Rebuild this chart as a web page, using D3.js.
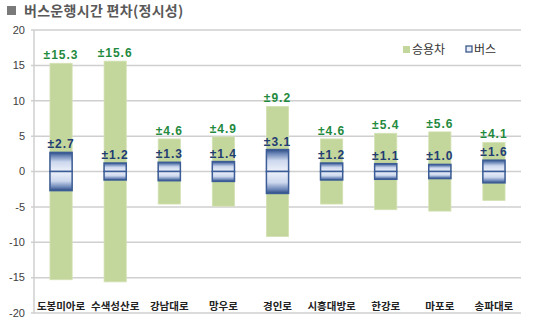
<!DOCTYPE html>
<html>
<head>
<meta charset="utf-8">
<script src="https://cdn.jsdelivr.net/npm/d3@7"></script>
<style>
  html, body { margin: 0; padding: 0; background: #fff; }
  svg { display: block; }
</style>
</head>
<body>
<svg id="chart" width="536" height="326"></svg>
<script>
// Routes (x categories)
const routes = ["도봉미아로", "수색성산로", "강남대로", "망우로", "경인로", "시흥대방로", "한강로", "마포로", "송파대로"];
// Travel-time deviation (± minutes) for passenger cars and buses
const carDeviation = [15.3, 15.6, 4.6, 4.9, 9.2, 4.6, 5.4, 5.6, 4.1];
const busDeviation = [2.7, 1.2, 1.3, 1.4, 3.1, 1.2, 1.1, 1.0, 1.6];
// Y-axis ticks
const yTicks = [20, 15, 10, 5, 0, -5, -10, -15, -20];
const legendLabels = ["승용차", "버스"];
const titleText = "버스운행시간 편차(정시성)";

const svg = d3.select("#chart");
const plot = { left: 34, right: 521, top: 30, bottom: 313 };

const x = d3.scaleBand().domain(routes).range([plot.left, plot.right]).padding(0);
const y = d3.scaleLinear().domain([-20, 20]).range([plot.bottom, plot.top]);
const barW = x.bandwidth() * 0.41;

const KR = "'Noto Sans CJK KR', 'Noto Sans', sans-serif";
const NUM = "'Liberation Sans', Arial, sans-serif";

// Gradients for the bus bars (dark at outer edge, light near zero)
const defs = svg.append("defs");
function grad(id, stops) {
  const g = defs.append("linearGradient").attr("id", id)
    .attr("x1", 0).attr("y1", 0).attr("x2", 0).attr("y2", 1);
  stops.forEach(([o, c]) => g.append("stop").attr("offset", o).attr("stop-color", c));
}
grad("busPos", [[0, "#2e4c84"], [0.18, "#6a85b6"], [0.5, "#cdd8ee"], [1, "#eef2fa"]]);
grad("busNeg", [[0, "#eef2fa"], [0.5, "#cdd8ee"], [0.82, "#6a85b6"], [1, "#2e4c84"]]);

// Title
svg.append("rect").attr("x", 7).attr("y", 6).attr("width", 9).attr("height", 9).attr("fill", "#7a7a7a");
svg.append("text").attr("x", 24).attr("y", 11).attr("dy", "0.36em")
  .attr("font-family", KR).attr("font-weight", "bold").attr("font-size", 14)
  .attr("letter-spacing", 0.3).attr("fill", "#595959").text(titleText);

// Gridlines
svg.append("g").selectAll("line").data(yTicks).join("line")
  .attr("x1", plot.left - 3).attr("x2", plot.right)
  .attr("y1", d => y(d)).attr("y2", d => y(d))
  .attr("stroke", "#cfcfcf").attr("stroke-width", 1.5);

// Y axis line
svg.append("line").attr("x1", plot.left).attr("x2", plot.left)
  .attr("y1", plot.top).attr("y2", plot.bottom)
  .attr("stroke", "#cfcfcf").attr("stroke-width", 1.5);

// Y tick labels
svg.append("g").selectAll("text").data(yTicks).join("text")
  .attr("x", 25).attr("y", d => y(d)).attr("dy", "0.35em")
  .attr("text-anchor", "end").attr("font-family", NUM).attr("font-size", 11)
  .attr("fill", "#404040").text(d => d);

// Car bars (±deviation around zero)
svg.append("g").selectAll("rect").data(routes).join("rect")
  .attr("x", d => x(d) + x.bandwidth() / 2 - barW / 2)
  .attr("width", barW)
  .attr("y", (d, i) => y(carDeviation[i]))
  .attr("height", (d, i) => y(-carDeviation[i]) - y(carDeviation[i]))
  .attr("fill", "#c3d69b").attr("stroke", "#d3e2b4").attr("stroke-width", 0.8);

// Bus bars: positive and negative segments
const bus = svg.append("g");
bus.selectAll("rect.pos").data(routes).join("rect").attr("class", "pos")
  .attr("x", d => x(d) + x.bandwidth() / 2 - barW / 2)
  .attr("width", barW)
  .attr("y", (d, i) => y(busDeviation[i]))
  .attr("height", (d, i) => y(0) - y(busDeviation[i]))
  .attr("fill", "url(#busPos)").attr("stroke", "#3b5c96").attr("stroke-width", 1.5);
bus.selectAll("rect.neg").data(routes).join("rect").attr("class", "neg")
  .attr("x", d => x(d) + x.bandwidth() / 2 - barW / 2)
  .attr("width", barW)
  .attr("y", y(0))
  .attr("height", (d, i) => y(-busDeviation[i]) - y(0))
  .attr("fill", "url(#busNeg)").attr("stroke", "#3b5c96").attr("stroke-width", 1.5);

// Value labels
svg.append("g").selectAll("text").data(routes).join("text")
  .attr("x", d => x(d) + x.bandwidth() / 2)
  .attr("y", (d, i) => y(carDeviation[i]) - 4)
  .attr("text-anchor", "middle").attr("font-family", NUM).attr("font-weight", "bold")
  .attr("font-size", 12).attr("letter-spacing", 1).attr("fill", "#1f8a3e")
  .text((d, i) => "±" + carDeviation[i].toFixed(1));
svg.append("g").selectAll("text").data(routes).join("text")
  .attr("x", d => x(d) + x.bandwidth() / 2)
  .attr("y", (d, i) => y(busDeviation[i]) - 4)
  .attr("text-anchor", "middle").attr("font-family", NUM).attr("font-weight", "bold")
  .attr("font-size", 12).attr("letter-spacing", 1).attr("fill", "#1f3c73")
  .text((d, i) => "±" + busDeviation[i].toFixed(1));

// Category labels along the bottom of the plot
svg.append("g").selectAll("text").data(routes).join("text")
  .attr("x", d => x(d) + x.bandwidth() / 2).attr("y", 306).attr("dy", "0.36em")
  .attr("text-anchor", "middle").attr("font-family", KR).attr("font-weight", "bold")
  .attr("font-size", 10.5).attr("fill", "#222").text(d => d);

// Legend
const legend = svg.append("g");
legend.append("rect").attr("x", 403).attr("y", 46).attr("width", 7).attr("height", 7).attr("fill", "#c3d69b");
legend.append("text").attr("x", 412).attr("y", 49.5).attr("dy", "0.36em")
  .attr("font-family", KR).attr("font-size", 12).attr("fill", "#333").text(legendLabels[0]);
legend.append("rect").attr("x", 466).attr("y", 46).attr("width", 6).attr("height", 6)
  .attr("fill", "#e8eef8").attr("stroke", "#2e4c84").attr("stroke-width", 1.2);
legend.append("text").attr("x", 474).attr("y", 49.5).attr("dy", "0.36em")
  .attr("font-family", KR).attr("font-size", 12).attr("fill", "#333").text(legendLabels[1]);
</script>
</body>
</html>
